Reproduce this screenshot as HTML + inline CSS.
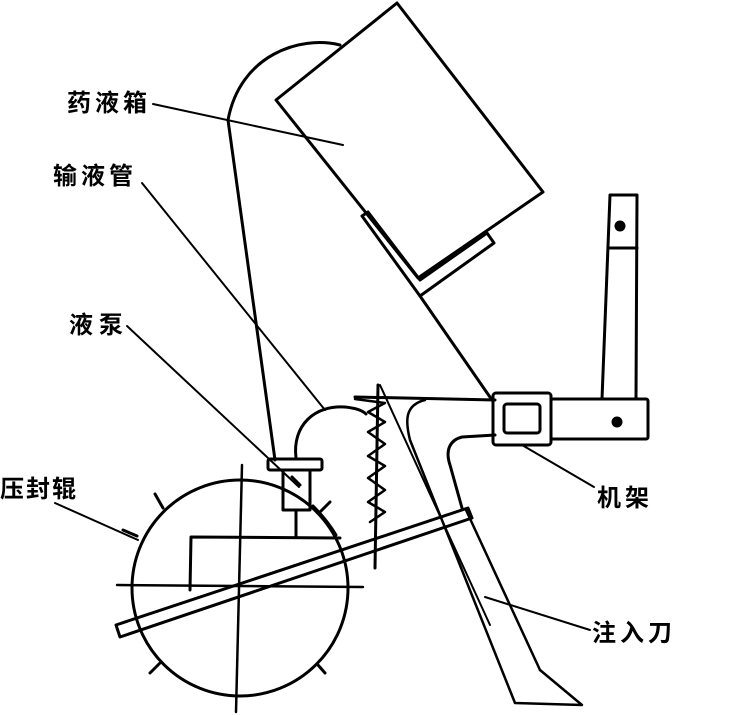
<!DOCTYPE html>
<html><head><meta charset="utf-8"><style>
html,body{margin:0;padding:0;background:#fff;width:739px;height:715px;overflow:hidden}
svg{display:block}
text{font-family:"Liberation Sans","Noto Sans CJK SC",sans-serif;font-weight:bold;font-size:24px;fill:#000}
</style></head><body>
<svg width="739" height="715" viewBox="0 0 739 715" fill="none" stroke="#000" stroke-width="3" stroke-linecap="round" stroke-linejoin="round">
<polygon points="397,3 543,192 418,278 276,100"/>
<path d="M362,216 L420,296 L494,243 L487,233 L420,280 L368,212 Z"/>
<path d="M340,45 C300,35 240,55 228,120 L275,460"/>
<line x1="420" y1="296" x2="492" y2="400"/>
<g stroke-width="2">
<line x1="153" y1="104" x2="343" y2="145"/>
<line x1="142" y1="183" x2="325" y2="410"/>
<line x1="127" y1="326" x2="299" y2="487"/>
<line x1="55" y1="503" x2="138" y2="540"/>
<line x1="522" y1="445" x2="594" y2="487"/>
<line x1="485" y1="597" x2="590" y2="630"/>
</g>
<circle cx="240" cy="588" r="108"/>
<line x1="242" y1="465" x2="236" y2="712" stroke-width="2.5"/>
<line x1="117" y1="585" x2="363" y2="587" stroke-width="2.5"/>
<g stroke-width="3">
<line x1="155" y1="494" x2="163" y2="508"/>
<line x1="137" y1="536" x2="123" y2="530"/>
<line x1="150" y1="673" x2="160" y2="663"/>
<line x1="325" y1="673" x2="318" y2="665"/>
<line x1="330" y1="502" x2="320" y2="512"/>
</g>
<path d="M296,458 C292,425 315,405 345,407 C355,408 362,410 366,414"/>
<path d="M313,506 C322,515 330,525 336,535"/>
<rect x="268" y="459" width="54" height="11" rx="2"/>
<rect x="283" y="470" width="27" height="40"/>
<line x1="292" y1="477" x2="300" y2="485"/>
<line x1="296" y1="510" x2="296" y2="536"/>
<path d="M190,590 L191,537 L340,538"/>
<polygon points="116,625 468,508 472,518 120,637"/>
<line x1="378" y1="385" x2="375" y2="568"/>
<path d="M355,399 L385,403 L368,412 L385,422 L368,432 L385,444 L368,456 L385,466 L368,478 L385,490 L368,502 L385,512 L370,522" stroke-width="2.5"/>
<line x1="355" y1="397" x2="495" y2="400"/>
<path d="M425,400 C405,405 405,420 410,440 L515,703 L582,705 L540,670" stroke-width="2.5"/>
<path d="M495,435 L462,437 C450,440 445,450 450,465 L462,508"/>
<line x1="380" y1="385" x2="490" y2="625" stroke-width="2"/>
<line x1="466" y1="510" x2="540" y2="670" stroke-width="2.5"/>
<rect x="493" y="393" width="58" height="52" rx="3"/>
<rect x="504" y="404" width="36" height="29" rx="3"/>
<rect x="551" y="399" width="97" height="40" rx="2"/>
<circle cx="617" cy="422" r="4" fill="#000"/>
<path d="M602,399 L610,195 L637,195 L636,399"/>
<line x1="610" y1="248" x2="637" y2="248"/>
<circle cx="620" cy="226" r="4" fill="#000"/>
</svg>
<svg width="739" height="715" style="position:absolute;left:0;top:0">
<text x="67" y="111" letter-spacing="4">药液箱</text>
<text x="53" y="184" letter-spacing="4">输液管</text>
<text x="69" y="333" letter-spacing="6">液泵</text>
<text x="0" y="497" letter-spacing="2">压封辊</text>
<text x="597" y="506" letter-spacing="4">机架</text>
<text x="592" y="641" letter-spacing="4">注入刀</text>
</svg>
</body></html>
